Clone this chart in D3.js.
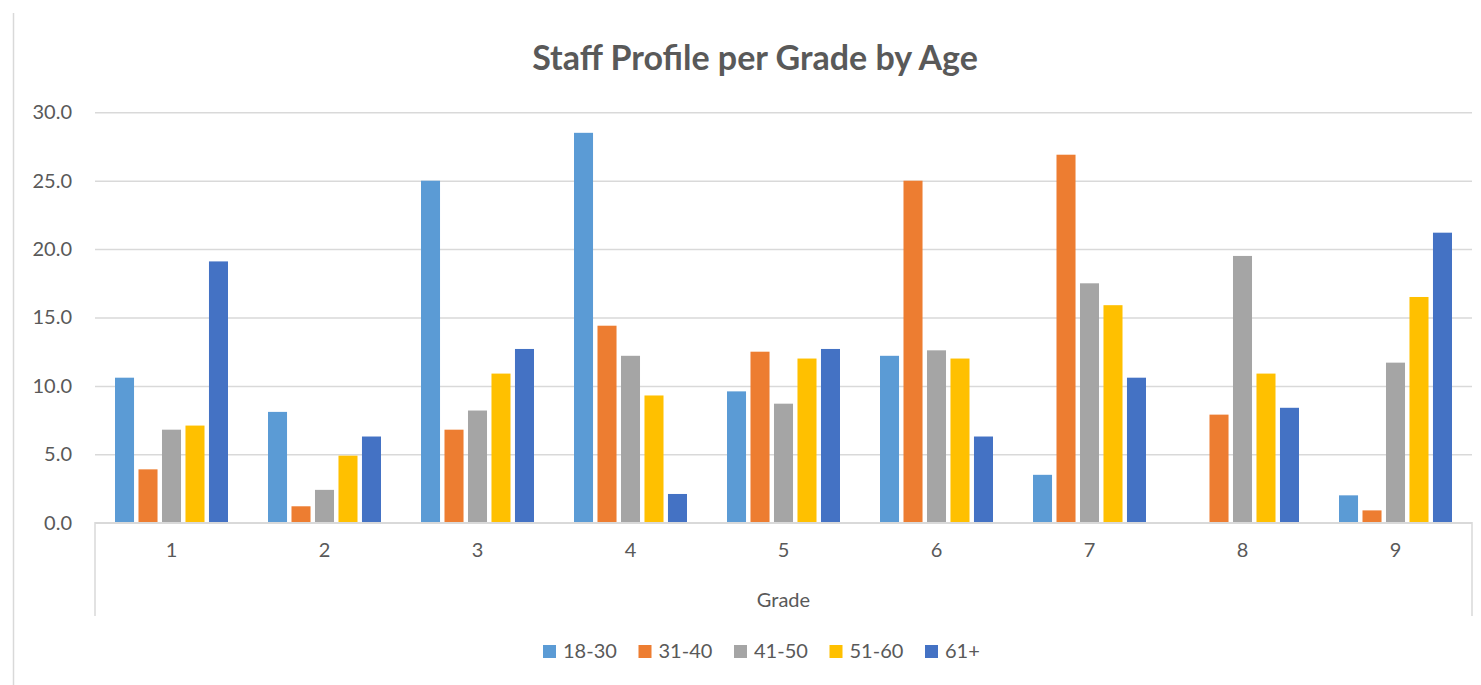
<!DOCTYPE html>
<html>
<head>
<meta charset="utf-8">
<script src="https://d3js.org/d3.v7.min.js"></script>
<style>
  body { margin: 0; background: #fff; }
  svg text { font-family: Lato, "Open Sans", sans-serif; fill: #595959; }
</style>
</head>
<body>
<svg width="1481" height="685"></svg>
<script>
  // values
  var grades = ['1', '2', '3', '4', '5', '6', '7', '8', '9'];
  var ageGroups = ['18-30', '31-40', '41-50', '51-60', '61+'];
  var colors = ['#5B9BD5', '#ED7D31', '#A5A5A5', '#FFC000', '#4472C4'];
  var age18_30 = [10.6, 8.1, 25.0, 28.5, 9.6, 12.2, 3.5, 0, 2.0];
  var age31_40 = [3.9, 1.2, 6.8, 14.4, 12.5, 25.0, 26.9, 7.9, 0.9];
  var age41_50 = [6.8, 2.4, 8.2, 12.2, 8.7, 12.6, 17.5, 19.5, 11.7];
  var age51_60 = [7.1, 4.9, 10.9, 9.3, 12.0, 12.0, 15.9, 10.9, 16.5];
  var age61 = [19.1, 6.3, 12.7, 2.1, 12.7, 6.3, 10.6, 8.4, 21.2];
  var yTicks = [0, 5, 10, 15, 20, 25, 30];

  var series = [age18_30, age31_40, age41_50, age51_60, age61];
  var data = grades.map(function (g, i) {
    return { grade: g, values: ageGroups.map(function (a, k) { return { key: a, value: series[k][i] }; }) };
  });

  var svg = d3.select('svg');
  var plotLeft = 95, plotRight = 1472, plotTop = 112.3, plotBottom = 522.7;

  var x0 = d3.scaleBand().domain(grades).range([plotLeft, plotRight]);
  var x1 = d3.scaleBand().domain(ageGroups)
      .range([20, x0.bandwidth() - 20]).paddingInner(0.19);
  var y = d3.scaleLinear().domain([0, 30]).range([plotBottom, plotTop]);
  var color = d3.scaleOrdinal().domain(ageGroups).range(colors);

  // outer chart border (left edge only visible)
  svg.append('line')
      .attr('x1', 13.5).attr('x2', 13.5).attr('y1', 13).attr('y2', 685)
      .attr('stroke', '#d9d9d9').attr('stroke-width', 1.5);

  // title
  svg.append('text')
      .attr('x', 755).attr('y', 70)
      .attr('text-anchor', 'middle')
      .style('font-size', '34px').style('font-weight', 'bold')
      .text('Staff Profile per Grade by Age');

  // gridlines + y labels
  var yAxis = svg.append('g')
      .attr('transform', 'translate(' + plotLeft + ',0)')
      .call(d3.axisLeft(y).tickValues(yTicks)
          .tickFormat(d3.format('.1f'))
          .tickSize(-(plotRight - plotLeft)).tickPadding(23));
  yAxis.select('.domain').remove();
  yAxis.selectAll('.tick line').attr('stroke', '#d9d9d9').attr('stroke-width', 1.5);
  yAxis.selectAll('.tick text').style('font-size', '20px').attr('fill', '#595959');

  // bars
  svg.append('g').selectAll('g').data(data).enter().append('g')
      .attr('transform', function (d) { return 'translate(' + x0(d.grade) + ',0)'; })
      .selectAll('rect').data(function (d) { return d.values; }).enter().append('rect')
      .attr('x', function (d) { return x1(d.key); })
      .attr('width', x1.bandwidth())
      .attr('y', function (d) { return y(d.value); })
      .attr('height', function (d) { return y(0) - y(d.value); })
      .attr('fill', function (d) { return color(d.key); });

  // category axis box
  var boxBottom = 616;
  svg.append('path')
      .attr('d', 'M' + plotLeft + ',' + boxBottom + 'V' + plotBottom + 'H' + plotRight + 'V' + boxBottom)
      .attr('fill', 'none').attr('stroke', '#d9d9d9').attr('stroke-width', 1.5);

  var xAxis = svg.append('g')
      .attr('transform', 'translate(0,' + plotBottom + ')')
      .call(d3.axisBottom(x0).tickSize(0).tickPadding(20));
  xAxis.select('.domain').remove();
  xAxis.selectAll('.tick text').style('font-size', '20px').attr('fill', '#595959');

  svg.append('text')
      .attr('x', (plotLeft + plotRight) / 2).attr('y', 607)
      .attr('text-anchor', 'middle')
      .style('font-size', '20px')
      .text('Grade');

  // legend
  var legend = svg.append('g').selectAll('g').data(ageGroups).enter().append('g')
      .attr('transform', function (d, i) { return 'translate(' + (543 + i * 95.5) + ',645)'; });
  legend.append('rect')
      .attr('width', 13).attr('height', 13)
      .attr('fill', function (d) { return color(d); });
  legend.append('text')
      .attr('x', 20).attr('y', 13)
      .style('font-size', '20px')
      .text(function (d) { return d; });
</script>
</body>
</html>
